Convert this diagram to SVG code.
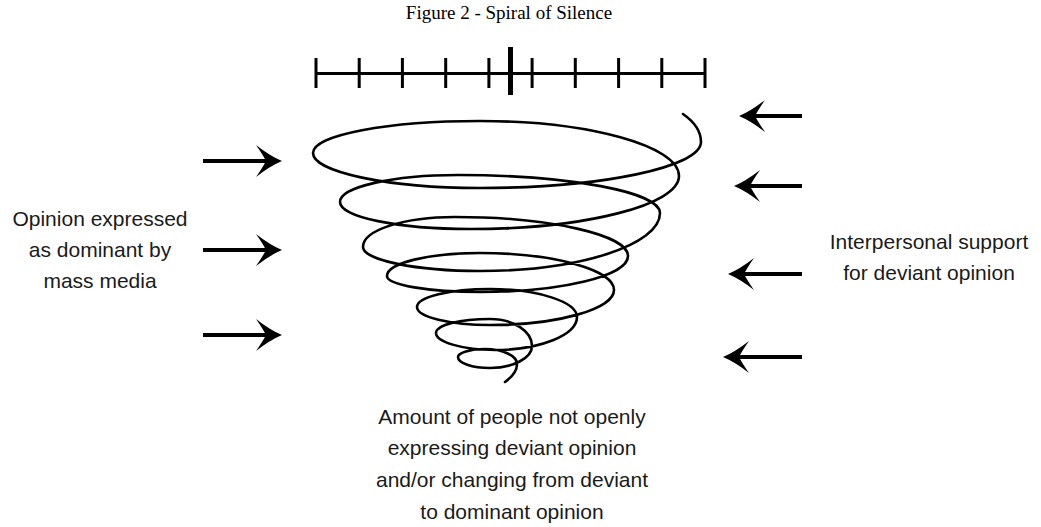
<svg xmlns="http://www.w3.org/2000/svg" width="1041" height="527" viewBox="0 0 1041 527">
<style>
.title{font-family:"Liberation Serif","Times New Roman",serif;font-size:19px;fill:#000}
.lbl{font-family:"Liberation Sans",Arial,sans-serif;font-size:21px;fill:#1a1a1a}
.bar{stroke:#000;stroke-width:3;fill:none}
.spiral{stroke:#000;stroke-width:2.6;fill:none;stroke-linecap:round;stroke-linejoin:round}
.arrow{stroke:#000;stroke-width:4;fill:none;marker-end:url(#ahead)}
</style>
<defs>
<marker id="ahead" viewBox="-27 -17 28 34" refX="-14" refY="0" markerWidth="28" markerHeight="34" markerUnits="userSpaceOnUse" orient="auto">
<path d="M0,0 Q-12,-5 -26,-16 Q-19,-6 -16,0 Q-19,6 -26,16 Q-12,5 0,0 Z" fill="#000"/>
</marker>
</defs>
<rect width="1041" height="527" fill="#fff"/>
<g id="title"><text class="title" x="509" y="19" text-anchor="middle">Figure 2 - Spiral of Silence</text></g>
<g id="scale">
<line class="bar" x1="316" y1="73.5" x2="705" y2="73.5"/>
<path class="bar" d="M316,58V88M359.2,58V88M402.4,58V88M445.7,58V88M488.9,58V88M532.1,58V88M575.3,58V88M618.6,58V88M661.8,58V88M705,58V88"/>
<line x1="510.5" y1="47" x2="510.5" y2="95" stroke="#000" stroke-width="5"/>
</g>
<g id="spiral">
<path class="spiral" d="M683,114 C693,121 701,131 701,142 C701,167 602,188 480,188 C388,188 313,172 313,153 C313,135 388,121 480,121 C589,121 679,146 679,176 C679,205 585,229 470,229 C398,229 340,217 340,202 C340,187 393,175 458,175 C569,175 660,192 660,213 C660,245 579,271 480,271 C416,271 363,260 363,247 C363,230 404,217 455,217 C550,217 628,235 628,256 C628,276 561,292 480,292 C429,292 387,285 387,276 C387,263 429,253 480,253 C554,253 614,270 614,290 C614,309 558,325 490,325 C450,325 417,317 417,307 C417,297 450,289 490,289 C538,289 577,302 577,317 C577,335 540,350 495,350 C463,350 436,342 436,333 C436,325 460,319 490,319 C513,319 532,331 532,346 C532,358 513,368 490,368 C472,368 458,363 458,357 C458,353 470,349 485,349 C503,349 517,356 517,364 C517,372 512,377 505,382"/>
</g>
<g id="media-label">
<text class="lbl" text-anchor="middle"><tspan x="100" y="226">Opinion expressed</tspan><tspan x="100" y="257">as dominant by</tspan><tspan x="100" y="288">mass media</tspan></text>
</g>
<g id="support-label">
<text class="lbl" text-anchor="middle"><tspan x="929" y="249">Interpersonal support</tspan><tspan x="929" y="280">for deviant opinion</tspan></text>
</g>
<g id="silence-label">
<text class="lbl" text-anchor="middle"><tspan x="512" y="424">Amount of people not openly</tspan><tspan x="512" y="455">expressing deviant opinion</tspan><tspan x="512" y="487">and/or changing from deviant</tspan><tspan x="512" y="519">to dominant opinion</tspan></text>
</g>
<g id="connectors">
<line class="arrow" x1="203" y1="161" x2="268" y2="161"/>
<line class="arrow" x1="203" y1="250" x2="268" y2="250"/>
<line class="arrow" x1="203" y1="335" x2="268" y2="335"/>
<line class="arrow" x1="802" y1="116" x2="753" y2="116"/>
<line class="arrow" x1="802" y1="186" x2="748" y2="186"/>
<line class="arrow" x1="802" y1="274" x2="742" y2="274"/>
<line class="arrow" x1="802" y1="357" x2="737" y2="357"/>
</g>
</svg>
